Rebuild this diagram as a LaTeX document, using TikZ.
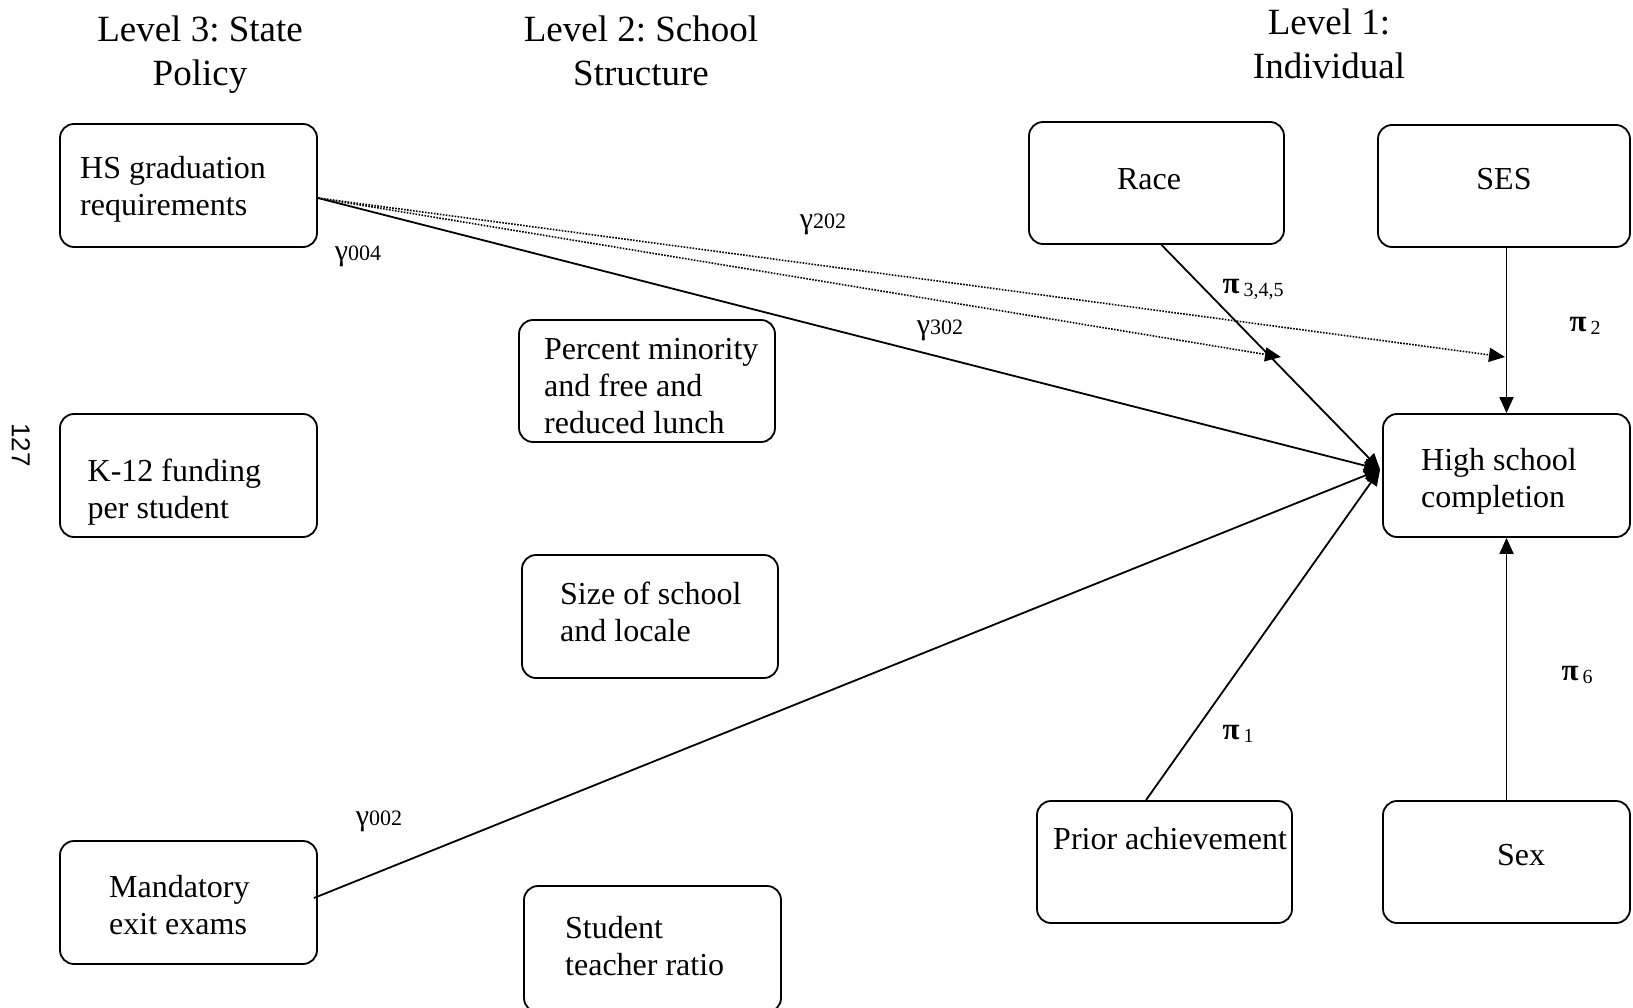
\documentclass[tikz,border=0pt]{standalone}
\usepackage{fontspec}
\setmainfont{Liberation Serif}
\newfontfamily\pagefont{Liberation Sans}
\usetikzlibrary{arrows.meta}
\frenchspacing
\newcommand{\pilab}[1]{{\fontsize{31}{31}\selectfont\bfseries π}\hspace{4pt}\raisebox{-3pt}{\fontsize{20}{20}\selectfont #1}}
\newcommand{\gamlab}[1]{{\fontsize{30}{30}\selectfont γ}{\fontsize{22}{22}\selectfont #1}}
\begin{document}
\begin{tikzpicture}[x=1pt,y=-1pt,
  box/.style={draw, line width=1.8pt, rounded corners=14pt, inner sep=0pt},
  boxtext/.style={anchor=west, align=left, inner sep=0pt, font=\fontsize{32}{37}\selectfont},
  ctext/.style={inner sep=0pt, font=\fontsize{32}{37}\selectfont},
  head/.style={align=center, inner sep=0pt, font=\fontsize{37}{44}\selectfont},
  conn/.style={line width=1.8pt, -{Triangle[length=16pt,width=14pt]}},
  dotconn/.style={line width=1.6pt, dash pattern=on 1.6pt off 1.4pt, -{Triangle[length=16pt,width=14pt]}},
  lab/.style={inner sep=0pt}
]
\useasboundingbox (0,0) rectangle (1633,1008);
\begin{scope}
\clip (0,0) rectangle (1633,1008);

% headings
\node[head] (h3) at (200,55) {Level 3: State\\Policy};
\node[head] (h2) at (641,51) {Level 2: School\\Structure};
\node[head] (h1) at (1329,44) {Level 1:\\Individual};

% page number
\node[inner sep=0pt, rotate=-90, font=\pagefont\fontsize{26}{26}\selectfont] (pg) at (21,445) {127};

% level 3 boxes
\node[box, minimum width=257pt, minimum height=123pt] (hs) at (188.5,185.5) {};
\node[boxtext] (hst) at (80,189.5) {HS graduation\\requirements};
\node[box, minimum width=257pt, minimum height=123pt] (k12) at (188.5,475.5) {};
\node[boxtext] (k12t) at (87.5,492.5) {K-12 funding\\per student};
\node[box, minimum width=257pt, minimum height=123pt] (mand) at (188.5,902.5) {};
\node[boxtext] (mandt) at (109,905.5) {Mandatory\\exit exams};

% level 2 boxes
\node[box, minimum width=256pt, minimum height=122pt] (pct) at (647,381) {};
\node[boxtext] (pctt) at (544,386) {Percent minority\\and free and\\reduced lunch};
\node[box, minimum width=256pt, minimum height=123pt] (size) at (650,616.5) {};
\node[boxtext] (sizet) at (560,611.5) {Size of school\\and locale};
\node[box, minimum width=257pt, minimum height=126pt] (stu) at (652.5,949) {};
\node[boxtext] (stut) at (565,946.5) {Student\\teacher ratio};

% level 1 boxes
\node[box, minimum width=255pt, minimum height=122pt] (race) at (1156.5,183) {};
\node[ctext] (racet) at (1149,179) {Race};
\node[box, minimum width=252pt, minimum height=122pt] (ses) at (1504,186) {};
\node[ctext] (sest) at (1504,179) {SES};
\node[box, minimum width=247pt, minimum height=123pt] (hsc) at (1506.5,475.5) {};
\node[boxtext] (hsct) at (1421,481.5) {High school\\completion};
\node[box, minimum width=255pt, minimum height=122pt] (prior) at (1164.5,862) {};
\node[boxtext] (priort) at (1053,839) {Prior achievement};
\node[box, minimum width=247pt, minimum height=122pt] (sex) at (1506.5,862) {};
\node[ctext] (sext) at (1521,855) {Sex};

% connector end points
\coordinate (hsR) at ([yshift=-12.5pt]hs.east);
\coordinate (mandR) at ([xshift=-4pt,yshift=4.5pt]mand.east);
\coordinate (raceB) at ([xshift=5pt]race.south);
\coordinate (priorT) at ([xshift=-18.5pt]prior.north);
\coordinate (hscin) at ([xshift=-2pt,yshift=6pt]hsc.west);
\coordinate (d1) at (1281,357);
\coordinate (d2) at (1505,357);

% connectors
\draw[conn] (hsR) -- (hscin);
\draw[conn] (mandR) -- (hscin);
\draw[conn] (raceB) -- (hscin);
\draw[conn] (priorT) -- (hscin);
\draw[conn] (ses.south -| hsc.north) -- (hsc.north);
\draw[conn] (sex.north) -- (hsc.south);
\draw[dotconn] (hsR) -- (d1);
\draw[dotconn] (hsR) -- (d2);

% labels
\node[lab] (g004) at (358,256) {\gamlab{004}};
\node[lab] (g202) at (823,224) {\gamlab{202}};
\node[lab] (g302) at (940,330) {\gamlab{302}};
\node[lab] (g002) at (379,821) {\gamlab{002}};
\node[lab] (p345) at (1253,289) {\pilab{3,4,5}};
\node[lab] (p2) at (1585,326) {\pilab{2}};
\node[lab] (p6) at (1577,675) {\pilab{6}};
\node[lab] (p1) at (1238,734) {\pilab{1}};
\end{scope}
\end{tikzpicture}
\end{document}
